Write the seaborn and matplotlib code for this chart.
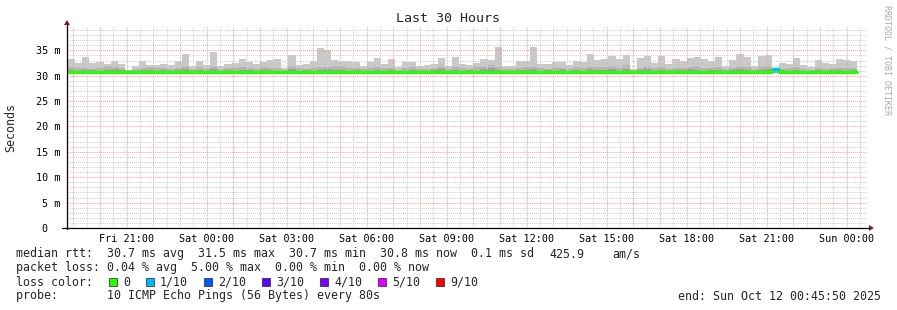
import numpy as np
import pandas as pd
import matplotlib
matplotlib.use("Agg")
import matplotlib.pyplot as plt
import seaborn as sns
from matplotlib.lines import Line2D
from matplotlib.patches import Rectangle, Polygon

# ---------------- data (milliseconds) ----------------
step_max_ms = [
    33.2, 32.5, 33.7, 32.5, 32.7, 32.3, 32.9, 32.4, 31.2, 31.9,
    33.0, 32.1, 32.2, 32.4, 32.1, 32.9, 34.2, 31.9, 32.9, 32.2,
    34.7, 31.9, 32.3, 32.5, 33.2, 32.7, 32.3, 32.7, 33.1, 33.2,
    31.5, 34.0,
    32.2, 32.4, 32.9, 35.4, 35.0, 33.1, 33.0, 33.0, 32.7, 32.0,
    32.8, 33.4, 32.4, 33.2, 31.7, 32.7, 32.7, 31.9, 32.2, 32.4,
    33.4, 31.9, 33.6, 32.4, 32.1, 32.6, 33.2, 33.1, 35.7, 32.0,
    31.9, 33.0, 32.9, 35.7, 32.4, 32.4, 32.7, 32.7, 32.2, 33.0,
    32.7, 34.2,
    33.1, 33.2, 33.9, 33.2, 34.0, 31.3, 33.4, 33.9, 32.5, 33.9,
    32.4, 33.2, 32.9, 33.4, 33.7, 33.2, 32.9, 33.7, 32.0, 33.1,
    34.2, 33.7, 32.0, 33.9, 34.0, 31.5, 32.5, 32.4, 33.4, 32.1,
    31.7, 33.1, 32.5, 32.3, 33.2, 33.1, 33.0,
]
step_upper_ms = [
    31.7, 31.5, 31.6, 31.4, 31.6, 31.9, 32.0, 31.5, 31.1, 31.4,
    31.5, 31.8, 31.6, 31.5, 31.4, 31.6, 31.9, 31.3, 31.8, 31.4,
    31.9, 31.3, 31.5, 31.6, 31.7, 31.5, 31.4, 31.7, 31.6, 31.5,
    31.2, 32.0,
    31.5, 31.4, 31.6, 31.7, 31.8, 32.0, 31.9, 31.6, 31.5, 31.3,
    31.6, 31.7, 31.5, 31.6, 31.2, 31.5, 31.8, 31.3, 31.4, 31.6,
    31.9, 31.3, 31.7, 31.5, 31.4, 31.7, 31.9, 32.2, 31.8, 31.4,
    31.3, 31.6, 31.7, 31.8, 31.5, 31.4, 31.6, 31.5, 31.4, 31.7,
    31.5, 32.0,
    31.7, 31.8, 32.0, 31.6, 32.2, 31.1, 31.6, 31.9, 31.5, 31.7,
    31.4, 31.6, 31.5, 31.8, 31.9, 31.6, 31.5, 31.7, 31.3, 31.6,
    31.9, 31.7, 31.3, 31.8, 31.9, 31.2, 31.4, 31.5, 31.7, 31.3,
    31.2, 31.6, 31.4, 31.5, 31.6, 31.5, 31.5,
]
step_inner_ms = [
    31.1, 31.0, 31.2, 31.1, 31.0, 31.2, 31.3, 31.1, 30.9, 31.0,
    31.2, 31.1, 31.0, 31.2, 31.0, 31.1, 31.3, 31.0, 31.2, 31.0,
    31.3, 31.0, 31.1, 31.0, 31.2, 31.1, 31.0, 31.2, 31.1, 31.0,
    30.9, 31.3,
    31.0, 31.1, 31.0, 31.2, 31.3, 31.1, 31.2, 31.0, 31.1, 30.9,
    31.0, 31.2, 31.0, 31.1, 30.9, 31.0, 31.2, 31.0, 31.0, 31.1,
    31.3, 30.9, 31.2, 31.0, 31.1, 31.0, 31.3, 31.5, 31.2, 31.0,
    30.9, 31.1, 31.2, 31.3, 31.0, 31.1, 31.0, 31.1, 30.9, 31.2,
    31.0, 31.3,
    31.2, 31.1, 31.3, 31.0, 31.4, 30.9, 31.1, 31.3, 31.0, 31.2,
    31.0, 31.1, 31.2, 31.3, 31.2, 31.0, 31.1, 31.2, 30.9, 31.1,
    31.3, 31.2, 31.0, 31.2, 31.3, 31.0, 31.1, 31.0, 31.2, 31.0,
    30.9, 31.1, 31.0, 31.1, 31.2, 31.0, 31.1,
]
smoke_floor_ms = 30.5
median_ms = [
    30.7, 30.7, 30.7, 30.7, 30.7, 30.7, 30.7, 30.7, 30.7, 30.7,
    30.7, 30.7, 30.7, 30.7, 30.7, 30.7, 30.7, 30.7, 30.7, 30.7,
    30.7, 30.7, 30.7, 30.7, 30.7, 30.7, 30.7, 30.7, 30.7, 30.7,
    30.7, 30.7, 30.7, 30.7, 30.7, 30.7, 30.7, 30.7, 30.7, 30.7,
    30.7, 30.7, 30.7, 30.7, 30.7, 30.7, 30.7, 30.7, 30.7, 30.7,
    30.7, 30.7, 30.7, 30.7, 30.7, 30.7, 30.7, 30.7, 30.7, 30.7,
    30.7, 30.7, 30.7, 30.7, 30.7, 30.7, 30.7, 30.7, 30.7, 30.7,
    30.7, 30.7, 30.7, 30.7, 30.7, 30.7, 30.7, 30.7, 30.7, 30.7,
    30.7, 30.7, 30.7, 30.7, 30.7, 30.7, 30.7, 30.7, 30.7, 30.7,
    30.7, 30.7, 30.7, 30.7, 30.7, 30.7, 30.7, 30.7, 30.7, 31.3,
    30.7, 30.7, 30.7, 30.7, 30.7, 30.7, 30.7, 30.7, 30.7, 30.7,
    30.8,
]
loss_tenths = [
    0, 0, 0, 0, 0, 0, 0, 0, 0, 0,
    0, 0, 0, 0, 0, 0, 0, 0, 0, 0,
    0, 0, 0, 0, 0, 0, 0, 0, 0, 0,
    0, 0, 0, 0, 0, 0, 0, 0, 0, 0,
    0, 0, 0, 0, 0, 0, 0, 0, 0, 0,
    0, 0, 0, 0, 0, 0, 0, 0, 0, 0,
    0, 0, 0, 0, 0, 0, 0, 0, 0, 0,
    0, 0, 0, 0, 0, 0, 0, 0, 0, 0,
    0, 0, 0, 0, 0, 0, 0, 0, 0, 0,
    0, 0, 0, 0, 0, 0, 0, 0, 0, 1,
    0, 0, 0, 0, 0, 0, 0, 0, 0, 0,
    0,
]
loss_levels = [0, 1, 2, 3, 4, 5, 9]
loss_colors = ["#26ff00", "#00b8ff", "#0059ff", "#5e00ff", "#7e00ff", "#dd00ff", "#ff0000"]
loss_labels = ["0", "1/10", "2/10", "3/10", "4/10", "5/10", "9/10"]

xtick_times = ["2025-10-10 21:00", "2025-10-11 00:00", "2025-10-11 03:00", "2025-10-11 06:00",
               "2025-10-11 09:00", "2025-10-11 12:00", "2025-10-11 15:00", "2025-10-11 18:00",
               "2025-10-11 21:00", "2025-10-12 00:00"]
xtick_labels = ["Fri 21:00", "Sat 00:00", "Sat 03:00", "Sat 06:00", "Sat 09:00",
                "Sat 12:00", "Sat 15:00", "Sat 18:00", "Sat 21:00", "Sun 00:00"]
ytick_values = [0, 5, 10, 15, 20, 25, 30, 35]
ytick_labels = ["0  ", "5 m", "10 m", "15 m", "20 m", "25 m", "30 m", "35 m"]

title = "Last 30 Hours"
ylabel = "Seconds"
stats_rtt = "median rtt:  30.7 ms avg  31.5 ms max  30.7 ms min  30.8 ms now  0.1 ms sd"
stats_rtt_am = "425.9"
stats_rtt_unit = "am/s"
stats_loss = "packet loss: 0.04 % avg  5.00 % max  0.00 % min  0.00 % now"
probe_text = "probe:       10 ICMP Echo Pings (56 Bytes) every 80s"
end_text = "end: Sun Oct 12 00:45:50 2025"
credit = "RRDTOOL / TOBI OETIKER"

graph_start = pd.Timestamp("2025-10-10 18:45:50")
graph_end = pd.Timestamp("2025-10-12 00:45:50")
first_step = pd.Timestamp("2025-10-10 18:48:00")
step_len = pd.Timedelta(minutes=16)

# ---------------- figure ----------------
W, H = 897, 310
sns.set_theme(style="white")
plt.rcParams["font.family"] = ["DejaVu Sans Mono", "DejaVu Sans"]

fig = plt.figure(figsize=(W / 100, H / 100), dpi=100)
fig.patch.set_facecolor("white")
ax = fig.add_axes([67 / W, (H - 228) / H, 800 / W, 201 / H])
ax.set_facecolor("white")

def hours(t):
    return (pd.Timestamp(t) - graph_start) / pd.Timedelta(hours=1)

n = len(step_max_ms)
edges = np.array([hours(first_step + i * step_len) for i in range(n + 1)])

def ext(a):
    a = list(a)
    return np.array(a + [a[-1]])

# smoke layers
ax.fill_between(edges, smoke_floor_ms, ext(step_max_ms), step="post", color="#c8c8c8", lw=0, zorder=1)
ax.fill_between(edges, smoke_floor_ms, ext(step_upper_ms), step="post", color="#b3b3b3", lw=0, zorder=1.1)
ax.fill_between(edges, smoke_floor_ms, ext(step_inner_ms), step="post", color="#9d9d9d", lw=0, zorder=1.2)

# median line
df = pd.DataFrame({"t": edges, "median": ext(median_ms)})
sns.lineplot(data=df, x="t", y="median", drawstyle="steps-post", color=loss_colors[0],
             lw=2.3, ax=ax, zorder=3, legend=False)
for i, lt in enumerate(loss_tenths):
    if lt > 0:
        c = loss_colors[loss_levels.index(lt)]
        ax.plot([edges[i], edges[i + 1]], [median_ms[i], median_ms[i]], color=c,
                lw=2.5, solid_capstyle="butt", zorder=3.5)

# axes / grid
ax.set_xlim(0, hours(graph_end))
ax.set_ylim(0, 39.6)

hour_ticks = pd.date_range("2025-10-10 19:00", "2025-10-12 00:00", freq="h")
major_pos = [hours(t) for t in hour_ticks]
half_ticks = pd.date_range("2025-10-10 19:30", "2025-10-12 00:30", freq="h")
minor_pos = [hours(t) for t in half_ticks]
label_pos = [hours(t) for t in xtick_times]
major_labels = []
for p in major_pos:
    lab = ""
    for lp, ll in zip(label_pos, xtick_labels):
        if abs(lp - p) < 1e-6:
            lab = ll
    major_labels.append(lab)
ax.set_xticks(major_pos)
ax.set_xticklabels(major_labels)
ax.set_xticks(minor_pos, minor=True)
ax.set_yticks(ytick_values)
ax.set_yticklabels(ytick_labels)
ax.set_yticks(np.arange(0, 40, 1), minor=True)

dot = (0, (1.0, 1.0))
ax.grid(which="minor", axis="both", color="#cfcfcf", linestyle=dot, linewidth=0.75)
ax.grid(which="major", axis="both", color="#ff9c9c", linestyle=dot, linewidth=0.75)
ax.set_axisbelow(False)
for gl in ax.get_xgridlines() + ax.get_ygridlines():
    gl.set_zorder(2)

ax.tick_params(axis="x", which="major", length=0, pad=4.5, labelsize=7.3, colors="black")
ax.tick_params(axis="y", which="major", length=2.5, width=0.8, pad=2.2, labelsize=7.3,
               colors="black", direction="out")
ax.tick_params(which="minor", length=0)
for s in ax.spines.values():
    s.set_visible(False)
ax.set_xlabel("")
ax.set_ylabel("")

# axis lines with arrows (figure pixel coordinates)
def fx(x):
    return x / W

def fy(y):
    return 1 - y / H

fig.add_artist(Line2D([fx(62), fx(869)], [fy(228), fy(228)], color="black", lw=0.9))
fig.add_artist(Line2D([fx(67), fx(67)], [fy(229), fy(24)], color="black", lw=0.9))
fig.add_artist(Polygon([[fx(869), fy(225)], [fx(874), fy(228)], [fx(869), fy(231)]],
                       closed=True, color="#8b1a1a", lw=0))
fig.add_artist(Polygon([[fx(64), fy(25)], [fx(67), fy(20)], [fx(70), fy(25)]],
                       closed=True, color="#8b1a1a", lw=0))

# texts
fig.text(fx(448), fy(19), title, ha="center", va="center", fontsize=9.6)
fig.text(fx(11), fy(127), ylabel, ha="center", va="center", rotation=90, fontsize=8.4)
fig.text(fx(887), fy(60), credit, ha="center", va="center", rotation=270, fontsize=6,
         color="#a8a8a8")

fs = 8.4
fig.text(fx(16), fy(254), stats_rtt, ha="left", va="center", fontsize=fs)
fig.text(fx(549), fy(254), stats_rtt_am, ha="left", va="center", fontsize=fs)
fig.text(fx(612), fy(254), stats_rtt_unit, ha="left", va="center", fontsize=fs)
fig.text(fx(16), fy(268), stats_loss, ha="left", va="center", fontsize=fs)
fig.text(fx(16), fy(282), "loss color:", ha="left", va="center", fontsize=fs)
cur = 109
for c, lab in zip(loss_colors, loss_labels):
    fig.add_artist(Rectangle((fx(cur), fy(286)), 8 / W, 8 / H, facecolor=c,
                             edgecolor="#202020", lw=0.5))
    fig.text(fx(cur + 14), fy(282), lab, ha="left", va="center", fontsize=fs)
    cur = cur + 14 + 7 * len(lab) + 16
fig.text(fx(16), fy(296), probe_text, ha="left", va="center", fontsize=fs)
fig.text(fx(881), fy(296), end_text, ha="right", va="center", fontsize=fs)

fig.savefig("out.png", dpi=100, facecolor="white")
